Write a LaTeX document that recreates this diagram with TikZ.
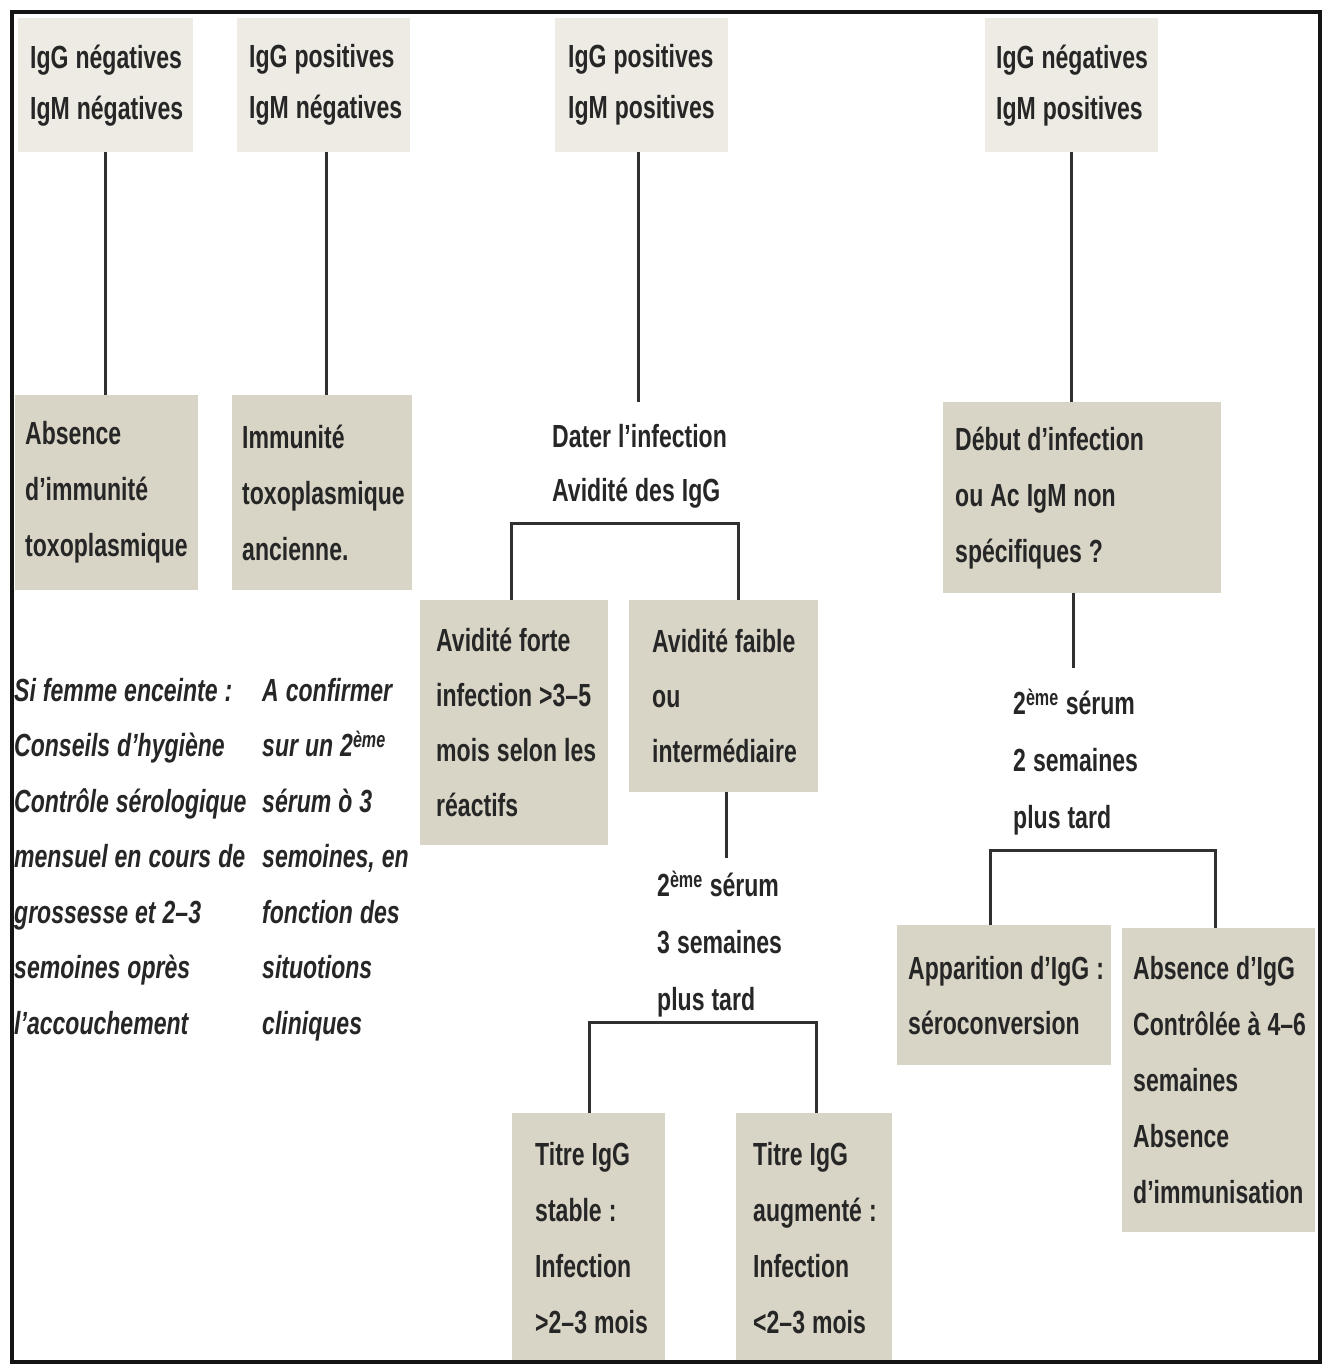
\documentclass[tikz,border=0pt]{standalone}
\usepackage{fontspec}
\setmainfont{Liberation Sans}[FakeStretch=0.72]
\definecolor{topcol}{HTML}{EDEBE3}
\definecolor{boxcol}{HTML}{D9D5C6}
\definecolor{txtcol}{HTML}{262626}
\definecolor{lncol}{HTML}{303030}
\begin{document}
\begin{tikzpicture}[x=1pt,y=-1pt,
  every node/.style={text=txtcol, execute at begin node={\spaceskip=7pt\relax\xspaceskip=7pt\relax}},
  topbox/.style={fill=topcol, anchor=north west, align=left, inner ysep=0pt, minimum height=134pt,
    font=\fontsize{32}{51}\selectfont\bfseries},
  lowbox/.style={fill=boxcol, anchor=north west, align=left, inner ysep=0pt,
    font=\fontsize{32}{56}\selectfont\bfseries},
  freetext/.style={anchor=north west, align=left, inner sep=0pt,
    font=\fontsize{32}{56}\selectfont\bfseries},
  ittext/.style={anchor=north west, align=left, inner sep=0pt,
    font=\fontsize{32}{55.5}\selectfont\bfseries\itshape},
  conn/.style={draw=lncol, line width=3pt},
  frame/.style={draw=black!92, line width=4pt}]
\useasboundingbox (0,0) rectangle (1330,1367);

% top row
\node[topbox, inner xsep=12pt, text width=151pt] (t1) at (18,18) {\mbox{IgG négatives}\\\mbox{IgM négatives}};
\node[topbox, inner xsep=12pt, text width=149pt] (t2) at (237,18) {\mbox{IgG positives}\\\mbox{IgM négatives}};
\node[topbox, inner xsep=13pt, text width=147pt] (t3) at (555,18) {\mbox{IgG positives}\\\mbox{IgM positives}};
\node[topbox, inner xsep=11pt, text width=151pt] (t4) at (985,18) {\mbox{IgG négatives}\\\mbox{IgM positives}};

% second level
\node[lowbox, inner xsep=10pt, text width=163pt, minimum height=195pt] (a1) at (15,395)
  {Absence\\\mbox{d’immunité}\\\mbox{toxoplasmique}};
\node[lowbox, inner xsep=10pt, text width=160pt, minimum height=195pt] (b1) at (232,395)
  {Immunité\\\mbox{toxoplasmique}\\ancienne.};
\node[freetext] (c1) at (552,424) {\mbox{Dater l’infection}\\[-2pt]\mbox{Avidité des IgG}};
\node[lowbox, inner xsep=12pt, text width=254pt, minimum height=191pt] (d1) at (943,402)
  {\mbox{Début d’infection}\\\mbox{ou Ac IgM non}\\\mbox{spécifiques ?}};

% avidity
\node[lowbox, inner xsep=16pt, text width=156pt, minimum height=245pt, font=\fontsize{32}{55}\selectfont\bfseries] (e1) at (420,600)
  {\mbox{Avidité forte}\\\mbox{infection >3–5}\\\mbox{mois selon les}\\réactifs};
\node[lowbox, inner xsep=23pt, text width=143pt, minimum height=192pt, font=\fontsize{32}{55}\selectfont\bfseries] (f1) at (629,600)
  {\mbox{Avidité faible}\\ou\\\mbox{intermédiaire}};

% italic notes
\node[ittext] (l1) at (14,678)
  {\mbox{Si femme enceinte :}\\\mbox{Conseils d’hygiène}\\\mbox{Contrôle sérologique}\\\mbox{mensuel en cours de}\\\mbox{grossesse et 2–3}\\\mbox{semoines oprès}\\\mbox{l’accouchement}};
\node[ittext] (l2) at (262,678)
  {\mbox{A confirmer}\\\mbox{sur un 2\textsuperscript{ème}}\\\mbox{sérum ò 3}\\\mbox{semoines, en}\\\mbox{fonction des}\\\mbox{situotions}\\\mbox{cliniques}};

% second serum (middle)
\node[freetext, font=\fontsize{32}{57}\selectfont\bfseries] (g1) at (657,871)
  {\mbox{2\textsuperscript{ème} sérum}\\\mbox{3 semaines}\\\mbox{plus tard}};
\node[lowbox, inner xsep=23pt, text width=107pt, minimum height=249pt] (h1) at (512,1113)
  {\mbox{Titre IgG}\\\mbox{stable :}\\\mbox{Infection}\\\mbox{>2–3 mois}};
\node[lowbox, inner xsep=17pt, text width=122pt, minimum height=249pt] (i1) at (736,1113)
  {\mbox{Titre IgG}\\\mbox{augmenté :}\\\mbox{Infection}\\\mbox{<2–3 mois}};

% second serum (right)
\node[freetext, font=\fontsize{32}{57}\selectfont\bfseries] (r1) at (1013,689)
  {\mbox{2\textsuperscript{ème} sérum}\\\mbox{2 semaines}\\\mbox{plus tard}};
\node[lowbox, inner xsep=11pt, text width=192pt, minimum height=140pt, font=\fontsize{32}{55}\selectfont\bfseries] (j1) at (897,925)
  {\mbox{Apparition d’IgG :}\\\mbox{séroconversion}};
\node[lowbox, inner xsep=11pt, text width=171pt, minimum height=304pt] (k1) at (1122,928)
  {\mbox{Absence d’IgG}\\\mbox{Contrôlée à 4–6}\\semaines\\Absence\\\mbox{d’immunisation}};

% connector helper coordinates
\coordinate (ct) at (638,402);
\coordinate (bl1) at (511,523);
\coordinate (br1) at (738,523);
\coordinate (gt) at (726,858);
\coordinate (bl2) at (589,1022);
\coordinate (br2) at (816,1022);
\coordinate (rt) at (1073,668);
\coordinate (bl3) at (990,850);
\coordinate (br3) at (1215,850);

% connectors
\draw[conn] (t1.south) -- (t1.south |- a1.north);
\draw[conn] ([xshift=3pt]t2.south) -- ([xshift=3pt]t2.south |- b1.north);
\draw[conn] (t3.south -| ct) -- (ct);
\draw[conn] (e1.north -| bl1) |- (br1) -- (f1.north -| br1);
\draw[conn] (f1.south -| gt) -- (gt);
\draw[conn] (h1.north -| bl2) |- (br2) -- (i1.north -| br2);
\draw[conn] (t4.south) -- (t4.south |- d1.north);
\draw[conn] (d1.south -| rt) -- (rt);
\draw[conn] (j1.north -| bl3) |- (br3) -- (k1.north -| br3);

% frame
\draw[frame] (12,12) rectangle (1320,1362);
\end{tikzpicture}
\end{document}
